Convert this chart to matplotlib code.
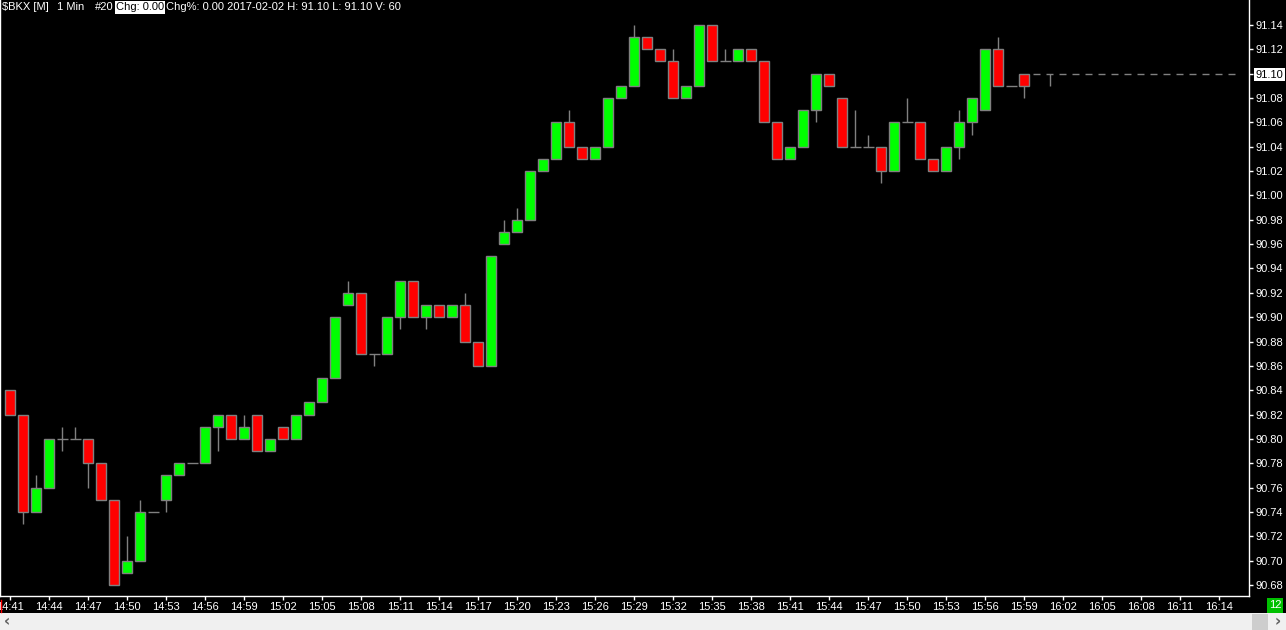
import numpy as np
import matplotlib
matplotlib.use("Agg")
import matplotlib.pyplot as plt
import matplotlib.patches as patches
import matplotlib.lines as mlines

# 1-minute bars of $BKX, 2017-02-02, starting 14:41
opens = [90.84, 90.82, 90.74, 90.76, 90.80, 90.80, 90.80, 90.78, 90.75, 90.69,
         90.70, 90.74, 90.75, 90.77, 90.78, 90.78, 90.81, 90.82, 90.80, 90.82,
         90.79, 90.81, 90.80, 90.82, 90.83, 90.85, 90.91, 90.92, 90.87, 90.87,
         90.90, 90.93, 90.90, 90.91, 90.90, 90.91, 90.88, 90.86, 90.96, 90.97,
         90.98, 91.02, 91.03, 91.06, 91.04, 91.03, 91.04, 91.08, 91.09, 91.13,
         91.12, 91.11, 91.08, 91.09, 91.14, 91.11, 91.11, 91.12, 91.11, 91.06,
         91.03, 91.04, 91.07, 91.10, 91.08, 91.04, 91.04, 91.04, 91.02, 91.06,
         91.06, 91.03, 91.02, 91.04, 91.06, 91.07, 91.12, 91.09, 91.10, 91.10,
         91.10, 91.10, 91.10, 91.10, 91.10, 91.10, 91.10, 91.10, 91.10, 91.10,
         91.10, 91.10, 91.10, 91.10, 91.10]
highs = [90.84, 90.82, 90.77, 90.80, 90.81, 90.81, 90.80, 90.78, 90.75, 90.72,
         90.75, 90.74, 90.77, 90.78, 90.78, 90.81, 90.82, 90.82, 90.82, 90.82,
         90.80, 90.81, 90.82, 90.83, 90.85, 90.90, 90.93, 90.92, 90.87, 90.90,
         90.93, 90.93, 90.91, 90.91, 90.91, 90.92, 90.88, 90.95, 90.98, 90.99,
         91.02, 91.03, 91.06, 91.07, 91.04, 91.04, 91.08, 91.09, 91.14, 91.13,
         91.12, 91.12, 91.09, 91.14, 91.14, 91.12, 91.12, 91.12, 91.11, 91.06,
         91.04, 91.07, 91.10, 91.10, 91.08, 91.07, 91.05, 91.04, 91.06, 91.08,
         91.06, 91.03, 91.04, 91.07, 91.08, 91.12, 91.13, 91.09, 91.10, 91.10,
         91.10, 91.10, 91.10, 91.10, 91.10, 91.10, 91.10, 91.10, 91.10, 91.10,
         91.10, 91.10, 91.10, 91.10, 91.10]
lows = [90.82, 90.73, 90.74, 90.76, 90.79, 90.80, 90.76, 90.75, 90.68, 90.69,
        90.70, 90.74, 90.74, 90.77, 90.78, 90.78, 90.79, 90.80, 90.80, 90.79,
        90.79, 90.80, 90.80, 90.82, 90.83, 90.85, 90.91, 90.87, 90.86, 90.87,
        90.89, 90.90, 90.89, 90.90, 90.90, 90.88, 90.86, 90.86, 90.96, 90.97,
        90.98, 91.02, 91.03, 91.04, 91.03, 91.03, 91.04, 91.08, 91.09, 91.12,
        91.11, 91.08, 91.08, 91.09, 91.11, 91.11, 91.11, 91.11, 91.06, 91.03,
        91.03, 91.04, 91.06, 91.09, 91.04, 91.04, 91.04, 91.01, 91.02, 91.06,
        91.03, 91.02, 91.02, 91.03, 91.05, 91.07, 91.09, 91.09, 91.08, 91.10,
        91.09, 91.10, 91.10, 91.10, 91.10, 91.10, 91.10, 91.10, 91.10, 91.10,
        91.10, 91.10, 91.10, 91.10, 91.10]
closes = [90.82, 90.74, 90.76, 90.80, 90.80, 90.80, 90.78, 90.75, 90.68, 90.70,
          90.74, 90.74, 90.77, 90.78, 90.78, 90.81, 90.82, 90.80, 90.81, 90.79,
          90.80, 90.80, 90.82, 90.83, 90.85, 90.90, 90.92, 90.87, 90.87, 90.90,
          90.93, 90.90, 90.91, 90.90, 90.91, 90.88, 90.86, 90.95, 90.97, 90.98,
          91.02, 91.03, 91.06, 91.04, 91.03, 91.04, 91.08, 91.09, 91.13, 91.12,
          91.11, 91.08, 91.09, 91.14, 91.11, 91.11, 91.12, 91.11, 91.06, 91.03,
          91.04, 91.07, 91.10, 91.09, 91.04, 91.04, 91.04, 91.02, 91.06, 91.06,
          91.03, 91.02, 91.04, 91.06, 91.08, 91.12, 91.09, 91.09, 91.09, 91.10,
          91.10, 91.10, 91.10, 91.10, 91.10, 91.10, 91.10, 91.10, 91.10, 91.10,
          91.10, 91.10, 91.10, 91.10, 91.10]
n_traded = 79          # bars after this are flat placeholders
start_minute = 14 * 60 + 41
price_ticks = [round(90.68 + 0.02 * k, 2) for k in range(24)]
last_price = 91.10
header = [("$BKX [M]", 2), ("1 Min", 57), ("#20", 95), ("Chg: 0.00", 116),
          ("Chg%: 0.00 2017-02-02 H: 91.10 L: 91.10 V: 60", 166)]

W, H = 1286, 630
FONT = "Liberation Sans"
GRAY = "#808080"

fig = plt.figure(figsize=(W / 100, H / 100), dpi=100, facecolor="black")
ax = fig.add_axes([0, 34 / H, 1249 / W, 596 / H])
ax.set_facecolor("black")

o = np.array(opens)
c = np.array(closes)
hi = np.array(highs)
lo = np.array(lows)
x = np.arange(len(o))

# wicks
ax.vlines(x, lo, hi, color=GRAY, linewidth=1.0, zorder=1)

# bodies
up = c > o
dn = c < o
bw = 0.8
ax.bar(x[up], (c - o)[up], bottom=o[up], width=bw, color="#00ff00",
       edgecolor=GRAY, linewidth=1.0, zorder=2)
ax.bar(x[dn], (o - c)[dn], bottom=c[dn], width=bw, color="#ff0000",
       edgecolor=GRAY, linewidth=1.0, zorder=2)

# doji bars
flat = c == o
real = x < n_traded
m = flat & real
ax.hlines(c[m], x[m] - 0.42, x[m] + 0.42, color=GRAY, linewidth=1.0, zorder=2)
m = flat & ~real
ax.hlines(c[m], x[m] - 0.32, x[m] + 0.25, color=GRAY, linewidth=1.0, zorder=2)

ax.set_xlim(-0.79, 95.3)
ax.set_ylim(90.671, 91.1605)

# time axis every 3 minutes
tick_idx = np.arange(0, 94, 3)
tick_lbl = ["%d:%02d" % ((start_minute + i) // 60, (start_minute + i) % 60) for i in tick_idx]
ax.set_xticks(tick_idx, tick_lbl)

ax.yaxis.tick_right()
ax.set_yticks(price_ticks, ["%.2f" % p for p in price_ticks])

ax.tick_params(axis="both", colors="white", length=3, width=1, direction="out",
               labelsize=8, pad=1.5)
for lab in ax.get_xticklabels() + ax.get_yticklabels():
    lab.set_fontfamily(FONT)
for lab, p in zip(ax.get_yticklabels(), price_ticks):
    if abs(p - last_price) < 1e-6:
        lab.set_color("black")
        lab.set_bbox(dict(facecolor="white", edgecolor="none", pad=1.2))

for side in ["left", "bottom", "right"]:
    ax.spines[side].set_color("white")
    ax.spines[side].set_linewidth(1.0)
ax.spines["top"].set_visible(False)

# header text
for txt, px in header:
    t = fig.text(px / W, 1 - 7.5 / H, txt, color="white", fontsize=8, family=FONT,
                 va="center", ha="left", parse_math=False)
    if txt.startswith("Chg:"):
        t.set_color("black")
        t.set_bbox(dict(facecolor="white", edgecolor="none", pad=1.0))

# scrollbar strip
fig.patches.append(patches.Rectangle((0, 0), 1, 17 / H, transform=fig.transFigure,
                                     facecolor="#f0f0f0", edgecolor="none"))
fig.patches.append(patches.Rectangle((1252 / W, 0), 16 / W, 16 / H, transform=fig.transFigure,
                                     facecolor="#cdcdcd", edgecolor="none"))
fig.text(7 / W, 8.5 / H, "\u2039", color="#606060", fontsize=11, family="DejaVu Sans",
         ha="center", va="center", fontweight="bold")
fig.text(1278 / W, 8.5 / H, "\u203a", color="#606060", fontsize=11, family="DejaVu Sans",
         ha="center", va="center", fontweight="bold")

# green counter box
fig.text(1275 / W, 1 - 605.5 / H, "12", color="white", fontsize=8, family=FONT,
         ha="center", va="center",
         bbox=dict(facecolor="#00c000", edgecolor="none", pad=1.5))

# small red marker at the left of the time axis
fig.lines.append(mlines.Line2D([1 / W, 1 / W], [1 - 612 / H, 1 - 600 / H],
                               transform=fig.transFigure, color="#ff0000", linewidth=1.0))

fig.savefig("out.png", dpi=100, facecolor="black")
